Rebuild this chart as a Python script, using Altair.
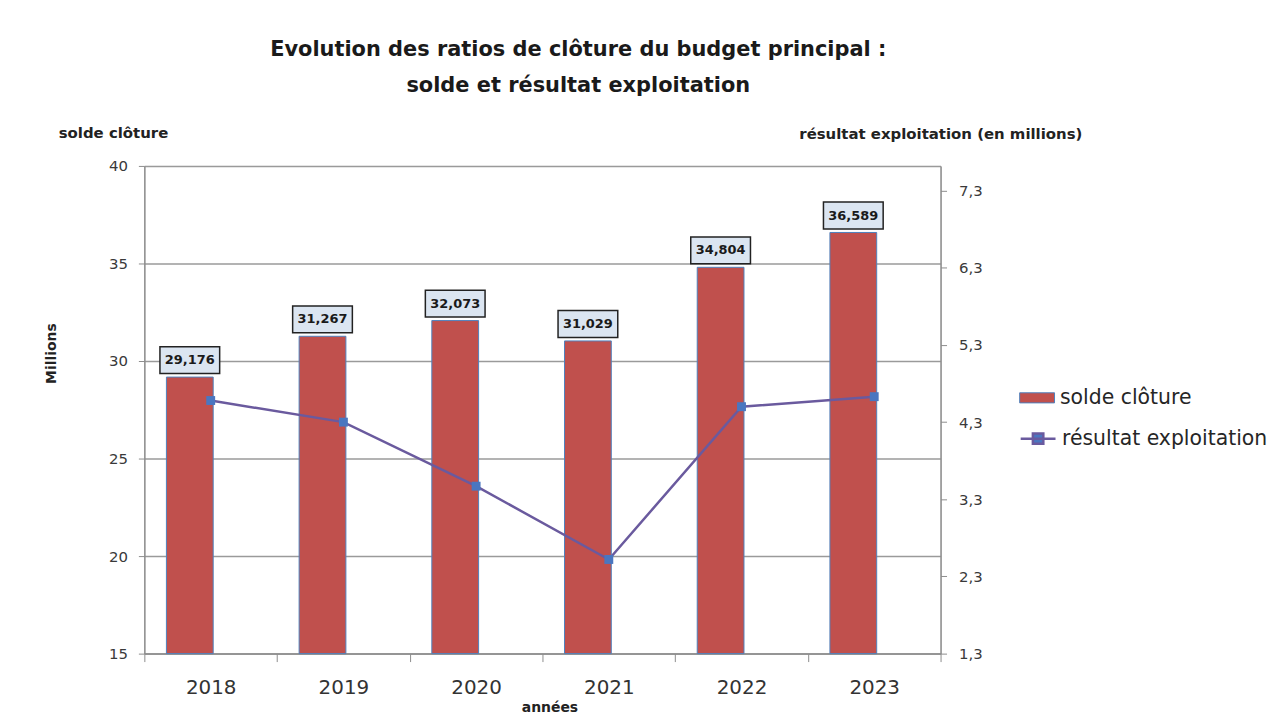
import altair as alt
import pandas as pd

# ---- data ----
years = ["2018", "2019", "2020", "2021", "2022", "2023"]
solde = [29.176, 31.267, 32.073, 31.029, 34.804, 36.589]
resultat = [4.58, 4.30, 3.47, 2.52, 4.50, 4.63]
left_ticks = [15, 20, 25, 30, 35, 40]
right_ticks = [1.3, 2.3, 3.3, 4.3, 5.3, 6.3, 7.3]

title_lines = ["Evolution des ratios de clôture du budget principal :",
               "solde et résultat exploitation"]
serie_bar = "solde clôture"
serie_line = "résultat exploitation"
left_caption = "solde clôture"
right_caption = "résultat exploitation (en millions)"
left_title = "Millions"
x_title = "années"

df = pd.DataFrame({"annee": years, "solde": solde, "resultat": resultat})
df["s1"] = serie_bar
df["s2"] = serie_line
df["label"] = [f"{v:.3f}".replace(".", ",") for v in solde]

FONT = "DejaVu Sans"
GRID = "#9a9a9a"
AXC = "#8c8c8c"
TXT = "#3a3a3a"

x_enc = alt.X(
    "annee:N", sort=years,
    scale=alt.Scale(paddingInner=0, paddingOuter=0),
    axis=alt.Axis(title=x_title, labelAngle=0, labelFont=FONT, labelFontSize=20,
                  labelColor="#333333", labelPadding=16, tickBand="extent",
                  tickSize=8, tickColor=AXC, domainColor=AXC, domainWidth=1.5,
                  titleFont=FONT, titleFontSize=14, titleFontWeight="bold",
                  titleColor="#222222", titleX=407, titleY=54,
                  titleBaseline="middle"),
)

yl_enc = alt.Y(
    "solde:Q",
    scale=alt.Scale(domain=[15, 40], nice=False, zero=False),
    axis=alt.Axis(orient="left", values=left_ticks, grid=True, gridColor=GRID,
                  gridWidth=1.5, tickSize=6, tickColor=AXC, domainColor=AXC,
                  domainWidth=1.5, labelFont=FONT, labelFontSize=15,
                  labelColor=TXT, labelPadding=11, title=left_title,
                  titleFont=FONT, titleFontSize=14, titleFontWeight="bold",
                  titleColor="#222222", titleAngle=270, titleX=-93, titleY=188,
                  titleAlign="center", titleBaseline="middle"),
)

yr_enc = alt.Y(
    "resultat:Q",
    scale=alt.Scale(domain=[1.3, 7.62], nice=False, zero=False),
    axis=alt.Axis(orient="right", values=right_ticks, grid=False,
                  labelExpr="replace(format(datum.value, '.1f'), '.', ',')",
                  tickSize=6, tickColor=AXC, domainColor=AXC, domainWidth=1.5,
                  labelFont=FONT, labelFontSize=15, labelColor=TXT,
                  labelPadding=12, title=right_caption, titleFont=FONT,
                  titleFontSize=15, titleFontWeight="bold",
                  titleColor="#222222", titleAngle=0, titleX=142, titleY=-33,
                  titleAlign="right", titleBaseline="middle"),
)

base = alt.Chart(df)

bars = base.mark_bar(width=47, xOffset=-21, stroke="#4f81bd",
                     strokeWidth=1).encode(
    x=x_enc, y=yl_enc, y2=alt.datum(15),
    fill=alt.Fill("s1:N", scale=alt.Scale(domain=[serie_bar], range=["#c0504d"]),
                  legend=alt.Legend(title=None, orient="none", legendX=879,
                                    legendY=215, padding=0,
                                    symbolType="M-1,-0.29L1,-0.29L1,0.29L-1,0.29Z",
                                    symbolSize=1225, symbolStrokeColor="#4f81bd",
                                    symbolStrokeWidth=1, labelFont=FONT,
                                    labelFontSize=20.5, labelColor="#262626",
                                    labelOffset=5, labelLimit=400)),
)

box_path = "M-1,-0.45L1,-0.45L1,0.45L-1,0.45Z"
boxes = base.mark_point(shape=box_path, size=3600, filled=True,
                        fill="#dbe5f1", stroke="#222222", strokeWidth=1.5,
                        opacity=1, xOffset=-21, yOffset=-17).encode(
    x=x_enc, y=yl_enc)

texts = base.mark_text(font=FONT, fontSize=13, fontWeight="bold",
                       color="#1a1a1a", xOffset=-21, yOffset=-17,
                       baseline="middle", align="center").encode(
    x=x_enc, y=yl_enc, text="label:N")

caption = alt.Chart(pd.DataFrame({"t": [left_caption]})).mark_text(
    font=FONT, fontSize=15, fontWeight="bold", color="#222222",
    align="center", baseline="middle").encode(
    x=alt.value(-31), y=alt.value(-33), text="t:N")

line = base.mark_line(strokeWidth=2.5).encode(
    x=x_enc, y=yr_enc,
    stroke=alt.Stroke("s2:N", scale=alt.Scale(domain=[serie_line], range=["#6a5a9e"]),
                      legend=alt.Legend(title=None, orient="none", legendX=879,
                                        legendY=255, padding=0,
                                        symbolType="M-1,0L1,0M-0.3,-0.3L0.3,-0.3L0.3,0.3L-0.3,0.3Z",
                                        symbolSize=1225, symbolFillColor="#4a76c0",
                                        symbolStrokeWidth=2.5, labelFont=FONT,
                                        labelFontSize=20.5, labelColor="#262626",
                                        labelOffset=5, labelLimit=400)),
)

points = base.mark_point(shape="square", filled=True, size=80,
                         color="#4a76c0", opacity=1).encode(x=x_enc, y=yr_enc)

left_layer = alt.layer(bars, boxes, texts, caption)
right_layer = alt.layer(line, points)

chart = alt.layer(left_layer, right_layer).resolve_scale(
    y="independent"
).properties(
    width=800, height=490,
    title=alt.TitleParams(text=title_lines, font=FONT, fontSize=21,
                          fontWeight="bold", color="#1a1a1a", lineHeight=36,
                          anchor="middle", dx=36, offset=30),
    autosize=alt.AutoSizeParams(type="none"),
    padding={"left": 137, "top": 157, "right": 330, "bottom": 63},
).configure_view(stroke=AXC, strokeWidth=1.5).configure(background="white")

chart.save("out.html", embed_options={"renderer": "svg", "actions": False})
